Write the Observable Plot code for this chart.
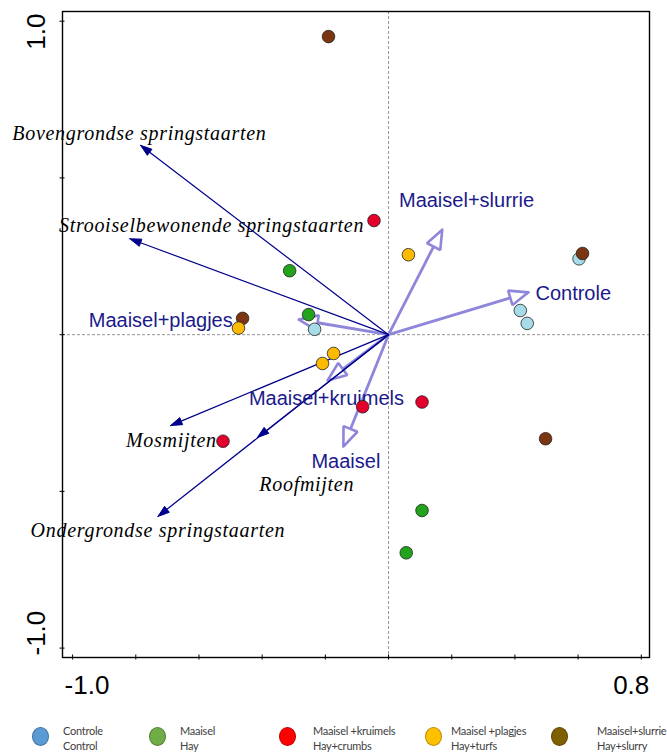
<!DOCTYPE html>
<html><head><meta charset="utf-8">
<script src="https://cdn.jsdelivr.net/npm/d3@7"></script>
<script src="https://cdn.jsdelivr.net/npm/@observablehq/plot@0.6"></script>
<style>
body{margin:0;background:#fff;width:667px;height:754px;overflow:hidden;}
#chart svg{display:block;}
#legend{position:relative;height:49px;width:667px;font-family:Lato,"Open Sans",sans-serif;font-size:11px;letter-spacing:-0.25px;color:#404040;}
.sw{position:absolute;top:22px;width:17px;height:19px;border-radius:50%;box-sizing:border-box;border:1px solid;}
.lt{position:absolute;top:18px;line-height:15px;white-space:nowrap;}
</style></head><body><div id="chart"></div><div id="legend"></div>
<script>
// ---- data ----
const groupsNl = ["Controle", "Maaisel", "Maaisel +kruimels", "Maaisel +plagjes", "Maaisel+slurrie"];
const groupsEn = ["Control", "Hay", "Hay+crumbs", "Hay+turfs", "Hay+slurry"];

const controleX = [0.603, 0.417, 0.439, -0.234];
const controleY = [0.242, 0.077, 0.036, 0.017];
const maaiselX = [-0.313, -0.253, 0.106, 0.056];
const maaiselY = [0.204, 0.064, -0.561, -0.696];
const kruimelsX = [-0.046, -0.082, 0.106, -0.524];
const kruimelsY = [0.364, -0.230, -0.215, -0.340];
const plagjesX = [0.063, -0.475, -0.174, -0.209];
const plagjesY = [0.255, 0.021, -0.060, -0.092];
const slurrieX = [-0.190, 0.614, -0.462, 0.497];
const slurrieY = [0.951, 0.259, 0.052, -0.332];

const species = ["Bovengrondse springstaarten", "Strooiselbewonende springstaarten", "Mosmijten", "Roofmijten", "Ondergrondse springstaarten"];
const speciesX = [-0.785, -0.819, -0.690, -0.415, -0.730];
const speciesY = [0.604, 0.306, -0.290, -0.328, -0.580];
const speciesLabelX = [-1.191, -1.043, -0.831, -0.409, -1.133];
const speciesLabelY = [0.622, 0.327, -0.359, -0.499, -0.644];

const treatments = ["Maaisel+slurrie", "Controle", "Maaisel+plagjes", "Maaisel+kruimels", "Maaisel"];
const treatmentX = [0.170, 0.443, -0.284, -0.193, -0.143];
const treatmentY = [0.335, 0.135, 0.048, -0.146, -0.357];
const treatmentLabelX = [0.033, 0.465, -0.949, -0.442, -0.244];
const treatmentLabelY = [0.407, 0.111, 0.024, -0.223, -0.424];

const xTicks = [-1.0, -0.8, -0.6, -0.4, -0.2, 0, 0.2, 0.4, 0.6, 0.8];
const yTicks = [-1.0, -0.5, 0, 0.5, 1.0];
const xTickLabels = ["-1.0", "0.8"];
const yTickLabels = ["1.0", "-1.0"];

// ---- styling / layout ----
const pointColors = ["#a6dce8", "#22a31c", "#e4002b", "#fdbb00", "#7b3510"];
const legendColors = ["#5b9bd5", "#70ad47", "#ff0000", "#ffc000", "#7f6000"];
const legendBorders = ["#41719c", "#507e32", "#c00000", "#bc8c00", "#5e4700"];
const navy = "#00008b", lav = "#8e86da", labelBlue = "#1a1a8a";

const W = 667, H = 705, mL = 62, mR = 18, mT = 11, mB = 48;
const xDom = [-1.032, 0.826], yDom = [-1.030, 1.031];
const kx = (W - mL - mR) / (xDom[1] - xDom[0]);
const ky = (H - mT - mB) / (yDom[1] - yDom[0]);

// arrowhead geometry (pixel lengths converted to data units)
function head(tx, ty, len, half) {
  const px = tx * kx, py = ty * ky, L = Math.hypot(px, py);
  const ux = px / L, uy = py / L, nx = -uy, ny = ux;
  const bx = px - ux * len, by = py - uy * len;
  return {
    base: [bx / kx, by / ky],
    pts: [[px / kx, py / ky], [(bx + nx * half) / kx, (by + ny * half) / ky], [(bx - nx * half) / kx, (by - ny * half) / ky], [px / kx, py / ky]]
  };
}
function arrows(X, Y, len, half) {
  const shafts = [], heads = [];
  X.forEach((x, i) => {
    const h = head(x, Y[i], len, half);
    shafts.push({x2: h.base[0], y2: h.base[1]});
    h.pts.forEach(p => heads.push({x: p[0], y: p[1], z: i}));
  });
  return {shafts, heads};
}
const tr = arrows(treatmentX, treatmentY, 19, 7.5);
const sp = arrows(speciesX, speciesY, 11.5, 3.8);

const pts = [];
const order = [[controleX, controleY, 0], [maaiselX, maaiselY, 1], [kruimelsX, kruimelsY, 2], [slurrieX, slurrieY, 4], [plagjesX, plagjesY, 3]];
order.forEach(([X, Y, g]) => X.forEach((x, j) => pts.push({x, y: Y[j], g})));

const plot = Plot.plot({
  width: W, height: H, marginLeft: mL, marginRight: mR, marginTop: mT, marginBottom: mB,
  x: {domain: xDom}, y: {domain: yDom},
  color: {type: "identity"},
  style: {fontFamily: "'Liberation Sans', Arial, sans-serif", background: "white", overflow: "visible"},
  marks: [
    Plot.ruleX([0], {stroke: "#777", strokeWidth: 0.8, strokeDasharray: "3,2"}),
    Plot.ruleY([0], {stroke: "#777", strokeWidth: 0.8, strokeDasharray: "3,2"}),
    Plot.frame({stroke: "black", strokeWidth: 1.4}),
    Plot.axisX(xTicks, {anchor: "bottom", tickSize: 5, dy: -2.5, tickFormat: () => "", label: null, stroke: "black"}),
    Plot.axisY(yTicks, {anchor: "left", tickSize: 5, dx: 2.5, tickFormat: () => "", label: null, stroke: "black"}),
    Plot.text([xTickLabels[0]], {x: [xTicks[0]], frameAnchor: "bottom", textAnchor: "start", lineAnchor: "bottom", dx: -8, dy: 36, fontSize: 26, fill: "black"}),
    Plot.text([xTickLabels[1]], {x: [xTicks[xTicks.length - 1]], frameAnchor: "bottom", textAnchor: "end", lineAnchor: "bottom", dx: 8, dy: 36, fontSize: 26, fill: "black"}),
    Plot.text([yTickLabels[0]], {frameAnchor: "top-left", rotate: -90, textAnchor: "end", lineAnchor: "middle", dx: -25.5, dy: 2, fontSize: 26, fill: "black"}),
    Plot.text([yTickLabels[1]], {frameAnchor: "bottom-left", rotate: -90, textAnchor: "start", lineAnchor: "middle", dx: -25.5, dy: -2, fontSize: 26, fill: "black"}),
    // treatment arrows
    Plot.link(tr.shafts, {x1: () => 0, y1: () => 0, x2: "x2", y2: "y2", stroke: lav, strokeWidth: 2.8}),
    Plot.line(tr.heads, {x: "x", y: "y", z: "z", stroke: lav, strokeWidth: 2.6, fill: "none", strokeLinejoin: "miter"}),
    // species arrows
    Plot.link(sp.shafts, {x1: () => 0, y1: () => 0, x2: "x2", y2: "y2", stroke: navy, strokeWidth: 1.2}),
    Plot.line(sp.heads, {x: "x", y: "y", z: "z", stroke: navy, strokeWidth: 1, fill: navy}),
    // labels
    Plot.text(species, {x: speciesLabelX, y: speciesLabelY, text: d => d, textAnchor: "start", lineAnchor: "bottom", fontFamily: "'Liberation Serif', 'Times New Roman', serif", fontStyle: "italic", fontSize: 20, fill: "black"}),
    Plot.text(treatments, {x: treatmentLabelX, y: treatmentLabelY, text: d => d, textAnchor: "start", lineAnchor: "bottom", fontSize: 20, fill: labelBlue}),
    // sample points
    Plot.dot(pts, {x: "x", y: "y", r: 6.3, fill: d => pointColors[d.g], stroke: "#222", strokeWidth: 0.8})
  ]
});
plot.querySelectorAll('g[font-style="italic"]').forEach(g => g.setAttribute("letter-spacing", "0.7"));
document.getElementById("chart").appendChild(plot);

// legend
const swLeft = [32, 149, 279, 425, 551];
const txLeft = [63, 180, 313, 451, 597];
const legend = document.getElementById("legend");
groupsNl.forEach((g, i) => {
  const s = document.createElement("div");
  s.className = "sw";
  s.style.left = swLeft[i] + "px";
  s.style.background = legendColors[i];
  s.style.borderColor = legendBorders[i];
  legend.appendChild(s);
  const t = document.createElement("div");
  t.className = "lt";
  t.style.left = txLeft[i] + "px";
  t.innerHTML = g + "<br>" + groupsEn[i];
  legend.appendChild(t);
});
</script>
</body></html>
